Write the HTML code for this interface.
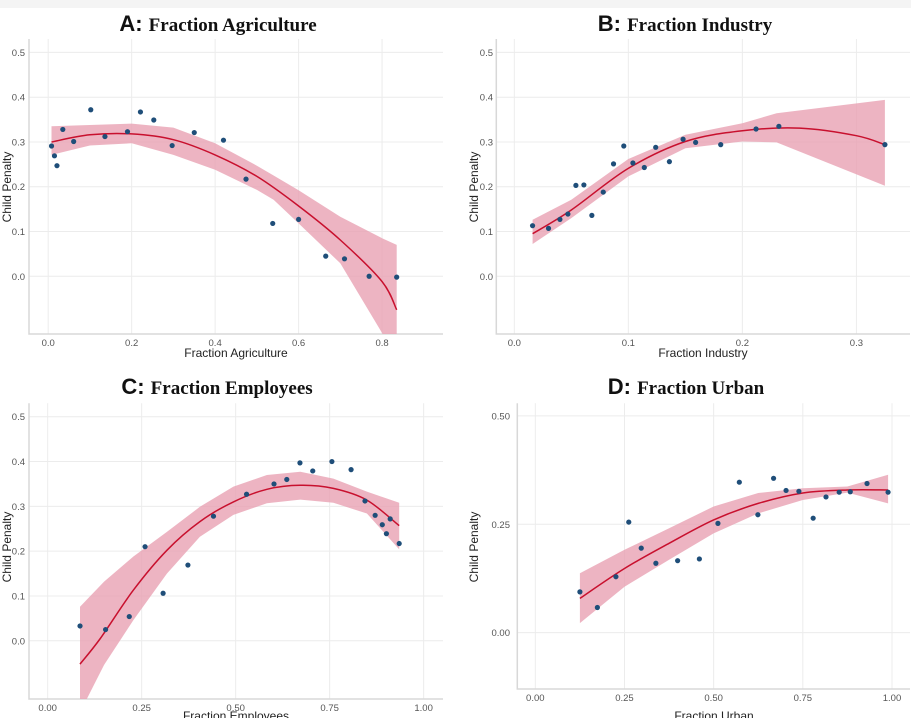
<!DOCTYPE html>
<html><head><meta charset="utf-8">
<style>
html,body{margin:0;padding:0;background:#fff;}
body{width:911px;height:718px;overflow:hidden;position:relative;}
svg text{font-family:"Liberation Sans",sans-serif;}
</style></head>
<body>
<svg id="chart" width="911" height="718" viewBox="0 0 911 718" xmlns="http://www.w3.org/2000/svg">
<rect x="0" y="0" width="911" height="8" fill="#f4f4f4"/>
</svg>
<script>
// ---------- Panel A: Fraction Agriculture ----------
const aX = [0.008,0.015,0.021,0.035,0.061,0.102,0.136,0.190,0.221,0.253,0.297,0.350,0.420,0.474,0.538,0.600,0.665,0.710,0.769,0.835];
const aY = [0.291,0.269,0.247,0.328,0.301,0.372,0.312,0.323,0.367,0.349,0.292,0.321,0.304,0.217,0.118,0.127,0.045,0.039,0.000,-0.002];
const aFitX = [0.008,0.1,0.2,0.3,0.4,0.5,0.6,0.7,0.8,0.835];
const aFitY = [0.300,0.316,0.318,0.305,0.271,0.223,0.157,0.081,-0.012,-0.075];
const aHiX = [0.008,0.2,0.3,0.4,0.5,0.54,0.6,0.7,0.8,0.835];
const aHi  = [0.335,0.341,0.332,0.297,0.247,0.225,0.192,0.133,0.085,0.070];
const aLoX = [0.008,0.1,0.2,0.3,0.4,0.5,0.54,0.6,0.7,0.8,0.835];
const aLo  = [0.271,0.292,0.297,0.271,0.238,0.193,0.171,0.118,0.029,-0.127,-0.22];
const aXTicks = [0,0.2,0.4,0.6,0.8];
const aXTickLabels = ["0.0","0.2","0.4","0.6","0.8"];
const aYTicks = [0,0.1,0.2,0.3,0.4,0.5];
const aYTickLabels = ["0.0","0.1","0.2","0.3","0.4","0.5"];

// ---------- Panel B: Fraction Industry ----------
const bX = [0.016,0.030,0.040,0.047,0.054,0.061,0.068,0.078,0.087,0.096,0.104,0.114,0.124,0.136,0.148,0.159,0.181,0.212,0.232,0.325];
const bY = [0.113,0.107,0.127,0.139,0.203,0.204,0.136,0.188,0.251,0.291,0.253,0.243,0.288,0.256,0.306,0.299,0.294,0.329,0.335,0.294];
const bFitX = [0.016,0.05,0.1,0.15,0.2,0.25,0.3,0.325];
const bFitY = [0.095,0.148,0.241,0.301,0.325,0.331,0.314,0.294];
const bHiX = [0.016,0.05,0.1,0.15,0.2,0.23,0.325];
const bHi  = [0.126,0.171,0.262,0.316,0.342,0.364,0.394];
const bLoX = [0.016,0.05,0.1,0.15,0.2,0.23,0.325];
const bLo  = [0.072,0.130,0.223,0.286,0.301,0.299,0.202];
const bXTicks = [0,0.1,0.2,0.3];
const bXTickLabels = ["0.0","0.1","0.2","0.3"];
const bYTicks = [0,0.1,0.2,0.3,0.4,0.5];
const bYTickLabels = ["0.0","0.1","0.2","0.3","0.4","0.5"];

// ---------- Panel C: Fraction Employees ----------
const cX = [0.086,0.154,0.217,0.259,0.307,0.373,0.441,0.529,0.602,0.636,0.671,0.705,0.756,0.807,0.844,0.871,0.890,0.901,0.911,0.935];
const cY = [0.033,0.025,0.054,0.210,0.106,0.169,0.278,0.327,0.350,0.360,0.397,0.379,0.400,0.382,0.312,0.280,0.259,0.239,0.272,0.217];
const cFitX = [0.086,0.140,0.228,0.317,0.405,0.494,0.583,0.672,0.760,0.849,0.935];
const cFitY = [-0.052,0.005,0.113,0.202,0.266,0.310,0.338,0.347,0.340,0.314,0.257];
const cHiX = [0.086,0.150,0.228,0.317,0.405,0.494,0.583,0.672,0.760,0.849,0.935];
const cHi  = [0.076,0.132,0.188,0.243,0.299,0.344,0.370,0.377,0.362,0.333,0.308];
const cLoX = [0.086,0.104,0.150,0.228,0.317,0.405,0.494,0.583,0.672,0.760,0.849,0.935];
const cLo  = [-0.20,-0.130,-0.054,0.046,0.150,0.232,0.281,0.307,0.315,0.308,0.284,0.204];
const cXTicks = [0,0.25,0.5,0.75,1];
const cXTickLabels = ["0.00","0.25","0.50","0.75","1.00"];
const cYTicks = [0,0.1,0.2,0.3,0.4,0.5];
const cYTickLabels = ["0.0","0.1","0.2","0.3","0.4","0.5"];

// ---------- Panel D: Fraction Urban ----------
const dX = [0.125,0.174,0.226,0.262,0.297,0.338,0.399,0.460,0.512,0.572,0.624,0.668,0.703,0.739,0.779,0.815,0.852,0.883,0.930,0.989];
const dY = [0.094,0.058,0.129,0.255,0.195,0.160,0.166,0.170,0.252,0.347,0.272,0.356,0.328,0.326,0.264,0.313,0.324,0.325,0.344,0.324];
const dFitX = [0.125,0.25,0.375,0.5,0.625,0.75,0.875,0.989];
const dFitY = [0.079,0.148,0.206,0.260,0.298,0.322,0.329,0.329];
const dHiX = [0.125,0.25,0.375,0.5,0.625,0.75,0.875,0.989];
const dHi  = [0.137,0.191,0.241,0.291,0.322,0.333,0.337,0.364];
const dLoX = [0.125,0.25,0.375,0.5,0.625,0.75,0.875,0.989];
const dLo  = [0.022,0.106,0.168,0.229,0.275,0.306,0.323,0.298];
const dXTicks = [0,0.25,0.5,0.75,1];
const dXTickLabels = ["0.00","0.25","0.50","0.75","1.00"];
const dYTicks = [0,0.25,0.5];
const dYTickLabels = ["0.00","0.25","0.50"];

const NS = "http://www.w3.org/2000/svg";
const svg = document.getElementById("chart");
function mk(tag, parent, attrs){
  const e = document.createElementNS(NS, tag);
  for (const k in attrs) e.setAttribute(k, attrs[k]);
  parent.appendChild(e);
  return e;
}

const panels = [
  {id:"a", letter:"A:", title:"Fraction Agriculture", xt:"Fraction Agriculture",
   box:[29,39,443,334], xd:[-0.046,0.946], yd:[-0.129,0.53],
   px:aX, py:aY, fx:aFitX, fy:aFitY, hx:aHiX, hy:aHi, lx:aLoX, ly:aLo,
   xticks:aXTicks, xlabels:aXTickLabels, yticks:aYTicks, ylabels:aYTickLabels,
   titleX:218, titleY:31, xtX:236, xtY:357, ylX:25, ytX:7, ytY:187},
  {id:"b", letter:"B:", title:"Fraction Industry", xt:"Fraction Industry",
   box:[496.3,39,910,334], xd:[-0.0158,0.347], yd:[-0.129,0.53],
   px:bX, py:bY, fx:bFitX, fy:bFitY, hx:bHiX, hy:bHi, lx:bLoX, ly:bLo,
   xticks:bXTicks, xlabels:bXTickLabels, yticks:bYTicks, ylabels:bYTickLabels,
   titleX:685, titleY:31, xtX:703, xtY:357, ylX:493, ytX:474, ytY:187},
  {id:"c", letter:"C:", title:"Fraction Employees", xt:"Fraction Employees",
   box:[29,403.3,443,699], xd:[-0.0497,1.0515], yd:[-0.130,0.53],
   px:cX, py:cY, fx:cFitX, fy:cFitY, hx:cHiX, hy:cHi, lx:cLoX, ly:cLo,
   xticks:cXTicks, xlabels:cXTickLabels, yticks:cYTicks, ylabels:cYTickLabels,
   titleX:217, titleY:394, xtX:236, xtY:720, ylX:25, ytX:7, ytY:547},
  {id:"d", letter:"D:", title:"Fraction Urban", xt:"Fraction Urban",
   box:[517.3,403.3,910,689], xd:[-0.0505,1.0505], yd:[-0.13,0.529],
   px:dX, py:dY, fx:dFitX, fy:dFitY, hx:dHiX, hy:dHi, lx:dLoX, ly:dLo,
   xticks:dXTicks, xlabels:dXTickLabels, yticks:dYTicks, ylabels:dYTickLabels,
   titleX:686, titleY:394, xtX:714, xtY:720, ylX:510, ytX:474, ytY:547}
];

panels.forEach(p => {
  const [x0,y0,x1,y1] = p.box;
  const sx = v => x0 + (v - p.xd[0]) / (p.xd[1]-p.xd[0]) * (x1-x0);
  const sy = v => y1 - (v - p.yd[0]) / (p.yd[1]-p.yd[0]) * (y1-y0);
  const g = mk("g", svg, {});
  
  
  const clipId = "clip-" + p.id;
  const cp = mk("clipPath", mk("defs", g, {}), {id:clipId});
  mk("rect", cp, {x:x0, y:y0, width:x1-x0, height:y1-y0});

  p.yticks.forEach((t,i) => {
    const l = mk("line", g, {x1:x0, x2:x1, y1:sy(t), y2:sy(t), stroke:"#ececec", "stroke-width":1});
    
    
    const tx = mk("text", g, {x:p.ylX, y:sy(t)+3.5, "text-anchor":"end", "font-size":"9.5", fill:"#555"});
    tx.textContent = p.ylabels[i];
    
    
  });
  p.xticks.forEach((t,i) => {
    const l = mk("line", g, {x1:sx(t), x2:sx(t), y1:y0, y2:y1, stroke:"#ececec", "stroke-width":1});
    
    
    const tx = mk("text", g, {x:sx(t), y:y1+12, "text-anchor":"middle", "font-size":"9.5", fill:"#555"});
    tx.textContent = p.xlabels[i];
    
    
  });
  const ax = mk("path", g, {d:`M${x0},${y0}V${y1}H${x1}`, fill:"none", stroke:"#d8d8d8", "stroke-width":1.5});
  
  

  let d = "";
  p.hx.forEach((v,i) => { d += (i?"L":"M") + sx(v).toFixed(1) + "," + sy(p.hy[i]).toFixed(1); });
  for (let i = p.lx.length-1; i >= 0; i--) d += "L" + sx(p.lx[i]).toFixed(1) + "," + sy(p.ly[i]).toFixed(1);
  d += "Z";
  const band = mk("path", g, {d:d, fill:"#e8a1b3", "fill-opacity":0.8, "clip-path":`url(#${clipId})`});
  
  

  const pts = p.fx.map((v,i) => [sx(v), sy(p.fy[i])]);
  let ld = `M${pts[0][0].toFixed(1)},${pts[0][1].toFixed(1)}`;
  for (let i = 0; i < pts.length-1; i++) {
    const p0 = pts[Math.max(0,i-1)], p1 = pts[i], p2 = pts[i+1], p3 = pts[Math.min(pts.length-1,i+2)];
    const c1 = [p1[0]+(p2[0]-p0[0])/6, p1[1]+(p2[1]-p0[1])/6];
    const c2 = [p2[0]-(p3[0]-p1[0])/6, p2[1]-(p3[1]-p1[1])/6];
    ld += `C${c1[0].toFixed(1)},${c1[1].toFixed(1)} ${c2[0].toFixed(1)},${c2[1].toFixed(1)} ${p2[0].toFixed(1)},${p2[1].toFixed(1)}`;
  }
  const line = mk("path", g, {d:ld, fill:"none", stroke:"#c8102e", "stroke-width":1.5, "clip-path":`url(#${clipId})`});
  
  

  p.px.forEach((v,i) => {
    const c = mk("circle", g, {cx:sx(v), cy:sy(p.py[i]), r:2.6, fill:"#1f4e79"});
    
    
  });

  const t = mk("text", g, {x:p.titleX, y:p.titleY, "text-anchor":"middle", fill:"#111"});
  
  
  const t1 = mk("tspan", t, {"font-family":"Liberation Sans, sans-serif", "font-weight":"bold", "font-size":"22"});
  t1.textContent = p.letter + " ";
  const t2 = mk("tspan", t, {"font-family":"Liberation Serif, serif", "font-weight":"bold", "font-size":"19"});
  t2.textContent = p.title;

  const xt = mk("text", g, {x:p.xtX, y:p.xtY, "text-anchor":"middle", "font-size":"12", fill:"#222"});
  xt.textContent = p.xt;
  
  
  const yt = mk("text", g, {x:p.ytX, y:p.ytY, "text-anchor":"middle", "font-size":"12", fill:"#222", transform:`rotate(-90 ${p.ytX} ${p.ytY})`, "dominant-baseline":"central"});
  yt.textContent = "Child Penalty";
  
  
});
</script>
</body></html>
